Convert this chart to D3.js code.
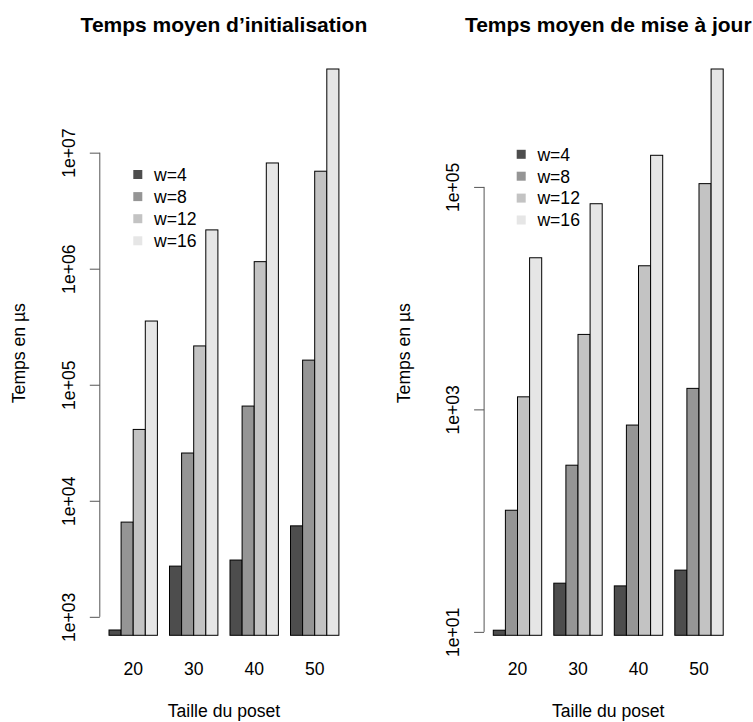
<!DOCTYPE html>
<html>
<head>
<meta charset="utf-8">
<script src="https://cdn.jsdelivr.net/npm/d3@7"></script>
<style>
  body { margin: 0; background: #fff; }
  svg { font-family: "Liberation Sans", Arial, sans-serif; }
  .title { font-weight: bold; font-size: 21px; }
  .lab { font-size: 17.6px; }
  .tick text { font-size: 17.6px; fill: #000; }
  .tick line { stroke: #555; }
</style>
</head>
<body>
<div id="chart"></div>
<script>
// data (microseconds)
var categories = ["20", "30", "40", "50"];
var seriesNames = ["w=4", "w=8", "w=12", "w=16"];
var seriesColors = ["#4D4D4D", "#959595", "#C3C3C3", "#E6E6E6"];

// Temps moyen d'initialisation
var initW4 = [770, 2735, 3085, 6080];
var initW8 = [6550, 25800, 65500, 163000];
var initW12 = [41200, 216000, 1150000, 6920000];
var initW16 = [354000, 2160000, 8150000, 52600000];
var initTicks = [1e3, 1e4, 1e5, 1e6, 1e7];
var initTickLabels = ["1e+03", "1e+04", "1e+05", "1e+06", "1e+07"];

// Temps moyen de mise a jour
var majW4 = [10.35, 27.4, 25.9, 35.9];
var majW8 = [124, 315, 723, 1545];
var majW12 = [1297, 4720, 19550, 107000];
var majW16 = [23070, 70600, 192400, 1148000];
var majTicks = [1e1, 1e3, 1e5];
var majTickLabels = ["1e+01", "1e+03", "1e+05"];

var W = 753, H = 722;
var plotTop = 69, plotBottom = 635.3;

var svg = d3.select("#chart").append("svg")
  .attr("width", W)
  .attr("height", H);

var panels = [
  {title: "Temps moyen d\u2019initialisation", series: [initW4, initW8, initW12, initW16],
   ticks: initTicks, tickLabels: initTickLabels, left: 99.8, right: 348.1,
   legend: {x: 133.3, y: 174.5, step: 22.1}},
  {title: "Temps moyen de mise \u00e0 jour", series: [majW4, majW8, majW12, majW16],
   ticks: majTicks, tickLabels: majTickLabels, left: 484.1, right: 732.4,
   legend: {x: 516.7, y: 154.3, step: 21.9}}
];

panels.forEach(function(p) {
  var all = d3.merge(p.series);
  var base = 0.9 * d3.min(all);

  // R barplot units: 4 bars + 1 space per group, 4% padding
  var x = d3.scaleLinear().domain([0.24, 20.76]).range([p.left, p.right]);
  var y = d3.scaleLog().domain([base, d3.max(all)]).range([plotBottom, plotTop]);

  var g = svg.append("g");

  // bars
  p.series.forEach(function(vals, j) {
    g.selectAll(null)
      .data(vals)
      .enter().append("rect")
        .attr("x", function(d, i) { return x(1 + i * 5 + j); })
        .attr("width", x(2) - x(1))
        .attr("y", function(d) { return y(d); })
        .attr("height", function(d) { return y(base) - y(d); })
        .attr("fill", seriesColors[j])
        .attr("stroke", "#000")
        .attr("stroke-width", 1);
  });

  // y axis
  var yAxis = g.append("g")
    .attr("transform", "translate(" + p.left + ",0)")
    .call(d3.axisLeft(y).tickValues(p.ticks).tickSize(10)
      .tickFormat(function(d, i) { return p.tickLabels[i]; }));
  yAxis.select(".domain").remove();
  yAxis.selectAll(".tick text")
    .attr("x", null).attr("dy", null)
    .attr("text-anchor", "middle")
    .attr("transform", "translate(-25,0) rotate(-90)");
  yAxis.append("line")
    .attr("y1", y(p.ticks[0])).attr("y2", y(p.ticks[p.ticks.length - 1]))
    .attr("stroke", "#555");

  // category labels
  g.selectAll(null)
    .data(categories)
    .enter().append("text")
      .attr("class", "lab")
      .attr("x", function(d, i) { return x(1 + i * 5 + 2); })
      .attr("y", 675.3)
      .attr("text-anchor", "middle")
      .text(function(d) { return d; });

  var cx = (p.left + p.right) / 2;
  g.append("text")
    .attr("class", "title")
    .attr("x", cx).attr("y", 31.7)
    .attr("text-anchor", "middle")
    .text(p.title);

  g.append("text")
    .attr("class", "lab")
    .attr("x", cx).attr("y", 717)
    .attr("text-anchor", "middle")
    .text("Taille du poset");

  g.append("text")
    .attr("class", "lab")
    .attr("text-anchor", "middle")
    .attr("transform", "translate(" + (p.left - 74.5) + "," + ((plotTop + plotBottom) / 2 + 1) + ") rotate(-90)")
    .text("Temps en \u00b5s");

  // legend, no box
  var leg = g.append("g");
  seriesNames.forEach(function(name, j) {
    var cy = p.legend.y + j * p.legend.step;
    leg.append("rect")
      .attr("x", p.legend.x).attr("y", cy - 4.5)
      .attr("width", 9).attr("height", 9)
      .attr("fill", seriesColors[j]);
    leg.append("text")
      .attr("class", "lab")
      .attr("x", p.legend.x + 20.7).attr("y", cy + 6.3)
      .text(name);
  });
});
</script>
</body>
</html>
